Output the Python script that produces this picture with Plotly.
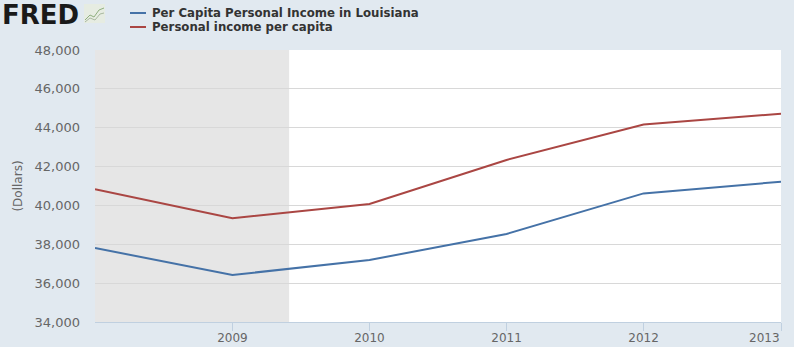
import plotly.graph_objects as go

years = ["2008-01-01", "2009-01-01", "2010-01-01", "2011-01-01", "2012-01-01", "2013-01-01"]
louisiana = [37810, 36420, 37190, 38530, 40620, 41220]
us_income = [40830, 39340, 40070, 42340, 44170, 44720]
series_names = ["Per Capita Personal Income in Louisiana", "Personal income per capita"]
series_colors = ["#4572A7", "#AA4643"]
recession = ["2008-01-01", "2009-06-01"]
tick_vals = ["2009-01-01", "2010-01-01", "2011-01-01", "2012-01-01", "2013-01-01"]
tick_text = ["2009", "2010", "2011", "2012", "2013"]

W, H = 794, 347
L, R, T, B = 95, 13, 50, 25
PW, PH = W - L - R, H - T - B


def px(x):
    return (x - L) / PW


def py(y):
    return (H - B - y) / PH


fig = go.Figure()
for name, vals, col in zip(series_names, [louisiana, us_income], series_colors):
    fig.add_trace(go.Scatter(x=years, y=vals, mode="lines", name=name,
                             line=dict(color=col, width=2), showlegend=False))

fig.add_shape(type="rect", xref="x", yref="paper", x0=recession[0], x1=recession[1],
              y0=0, y1=1, fillcolor="#E6E6E6", line=dict(width=0), layer="below")

# legend (manual, compact like the original)
for i, (name, col) in enumerate(zip(series_names, series_colors)):
    yc = 13 + i * 14
    fig.add_shape(type="line", xref="paper", yref="paper", x0=px(130), x1=px(146),
                  y0=py(yc), y1=py(yc), line=dict(color=col, width=2))
    fig.add_annotation(xref="paper", yref="paper", x=px(150), y=py(yc), xanchor="left",
                       yanchor="middle", text="<b>" + name + "</b>", showarrow=False,
                       font=dict(family="DejaVu Sans", size=11.75, color="#333333"))

# FRED logo
fig.add_annotation(xref="paper", yref="paper", x=px(0), y=py(0), xanchor="left", yanchor="top",
                   text="<b>FRED</b>", showarrow=False, xshift=0, yshift=2,
                   font=dict(family="DejaVu Sans", size=26, color="#1A1A1A"))
fig.add_shape(type="rect", xref="paper", yref="paper", x0=px(84), x1=px(105),
              y0=py(23), y1=py(4), fillcolor="#E6ECE2", line=dict(width=0))
fig.add_shape(type="path", xref="paper", yref="paper",
              path="M {},{} L {},{} L {},{} L {},{} L {},{}".format(
                  px(85), py(20), px(90), py(15), px(94), py(17), px(99), py(10), px(104), py(8)),
              line=dict(color="#8FAF7F", width=1))
fig.add_shape(type="path", xref="paper", yref="paper",
              path="M {},{} L {},{} L {},{} L {},{} L {},{}".format(
                  px(85), py(22), px(90), py(18), px(95), py(20), px(100), py(14), px(104), py(13)),
              line=dict(color="#A9B9A0", width=1))

# last tick label right-aligned at the plot edge, as in the original
fig.add_annotation(xref="x", yref="paper", x=tick_vals[-1], y=py(337.5), xanchor="right",
                   yanchor="middle", text=tick_text[-1], showarrow=False, xshift=1,
                   font=dict(family="DejaVu Sans", size=12, color="#666666"))
shown_text = tick_text[:-1] + [""]

fig.update_layout(
    width=W, height=H,
    margin=dict(l=L, r=R, t=T, b=B, autoexpand=False),
    paper_bgcolor="#E1E9F0",
    plot_bgcolor="#FFFFFF",
    showlegend=False,
    font=dict(family="DejaVu Sans", size=12, color="#666666"),
    xaxis=dict(range=["2008-01-01", "2013-01-01"], tickvals=tick_vals, ticktext=shown_text,
               showgrid=False, showline=True, linecolor="#C0D0E0", linewidth=1,
               ticks="outside", ticklen=8, tickcolor="#C0D0E0", zeroline=False,
               ticklabelstandoff=-3,
               tickfont=dict(family="DejaVu Sans", size=12, color="#666666")),
    yaxis=dict(range=[34000, 48000], dtick=2000, tickformat=",", showgrid=True,
               gridcolor="#D8D8D8", zeroline=False, showline=False,
               ticks="", ticklabelstandoff=14,
               title=dict(text="(Dollars)", font=dict(family="DejaVu Sans", size=12, color="#666666"),
                          standoff=9),
               tickfont=dict(family="DejaVu Sans", size=13, color="#666666")),
)
fig.write_html("out.html")
